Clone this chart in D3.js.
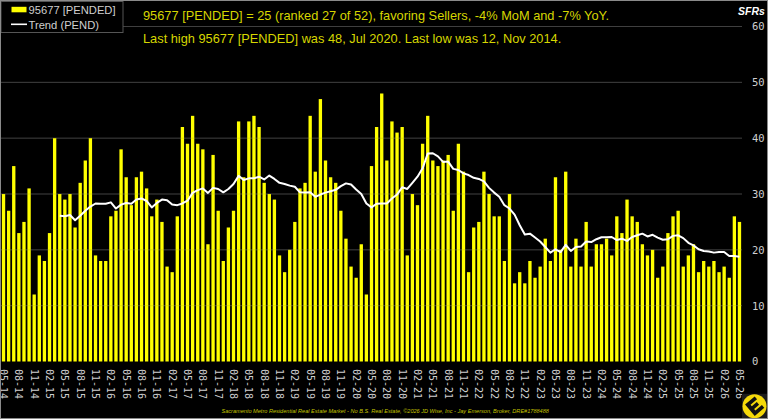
<!DOCTYPE html>
<html>
<head>
<meta charset="utf-8">
<script src="https://cdn.jsdelivr.net/npm/d3@7/dist/d3.min.js"></script>
<style>
html,body{margin:0;padding:0;background:#000;overflow:hidden}
svg{display:block}
</style>
</head>
<body>
<svg id="chart" width="768" height="419"></svg>
<script>
// Monthly pended single family sales for one ZIP code, May 2014 to May 2026.
const months = ["05-14","06-14","07-14","08-14","09-14","10-14","11-14","12-14",
"01-15","02-15","03-15","04-15","05-15","06-15","07-15","08-15","09-15","10-15","11-15","12-15",
"01-16","02-16","03-16","04-16","05-16","06-16","07-16","08-16","09-16","10-16","11-16","12-16",
"01-17","02-17","03-17","04-17","05-17","06-17","07-17","08-17","09-17","10-17","11-17","12-17",
"01-18","02-18","03-18","04-18","05-18","06-18","07-18","08-18","09-18","10-18","11-18","12-18",
"01-19","02-19","03-19","04-19","05-19","06-19","07-19","08-19","09-19","10-19","11-19","12-19",
"01-20","02-20","03-20","04-20","05-20","06-20","07-20","08-20","09-20","10-20","11-20","12-20",
"01-21","02-21","03-21","04-21","05-21","06-21","07-21","08-21","09-21","10-21","11-21","12-21",
"01-22","02-22","03-22","04-22","05-22","06-22","07-22","08-22","09-22","10-22","11-22","12-22",
"01-23","02-23","03-23","04-23","05-23","06-23","07-23","08-23","09-23","10-23","11-23","12-23",
"01-24","02-24","03-24","04-24","05-24","06-24","07-24","08-24","09-24","10-24","11-24","12-24",
"01-25","02-25","03-25","04-25","05-25","06-25","07-25","08-25","09-25","10-25","11-25","12-25",
"01-26","02-26","03-26","04-26","05-26"];

const pended = [30,27,35,23,25,31,12,19,
18,23,40,30,29,30,24,32,36,40,19,18,
18,26,27,38,33,28,33,34,31,26,29,25,
17,16,26,42,39,44,39,38,21,37,27,18,
24,27,43,33,43,44,42,32,30,29,19,16,
20,25,31,32,44,34,47,36,33,32,27,22,
17,15,21,12,35,42,48,36,43,41,42,19,
30,28,39,44,36,35,36,37,27,39,34,16,
24,25,34,30,26,26,18,30,14,16,14,18,
15,17,22,18,33,20,34,17,22,17,25,17,
21,21,22,19,26,23,29,26,25,21,19,20,
15,17,23,26,27,17,19,21,16,18,17,18,
16,17,15,26,25];

// The trend line only begins once a full year of months is available.
const trend = [null,null,null,null,null,null,null,null,
null,null,null,26.1,26.0,26.25,25.3,26.1,27.0,27.75,28.3,28.25,
28.25,28.5,27.4,28.1,28.4,28.25,29.0,29.2,28.75,27.6,28.4,29.0,
28.9,28.1,28.0,28.3,28.8,30.2,30.7,31.0,30.2,31.1,30.9,30.3,
30.9,31.8,33.25,32.5,32.8,32.8,33.1,32.6,33.3,32.7,32.0,31.8,
31.5,31.3,30.3,30.25,30.3,29.5,29.9,30.25,30.5,30.75,31.4,31.9,
31.7,30.8,30.0,28.3,27.6,28.25,28.3,28.3,29.2,29.9,31.2,30.9,
32.0,33.1,34.6,37.25,37.3,36.75,35.75,35.8,34.5,34.3,33.7,33.4,
32.9,32.7,32.25,31.1,30.25,29.5,28.0,27.4,26.3,24.4,22.75,22.9,
22.2,21.5,20.5,19.5,20.1,19.6,20.9,19.8,20.5,20.6,21.5,21.4,
21.9,22.25,22.25,22.3,21.75,22.0,21.6,22.3,22.6,22.9,22.4,22.7,
22.2,21.8,21.9,22.5,22.6,22.1,21.25,20.8,20.1,19.8,19.7,19.5,
19.6,19.6,18.9,18.9,18.75];

const yTicks = [0,10,20,30,40,50,60];
const xTickLabels = months.filter((m, i) => i % 3 === 0);

const headline = "95677 [PENDED] = 25 (ranked 27 of 52), favoring Sellers, -4% MoM and -7% YoY.";
const subline = "Last high 95677 [PENDED] was 48, Jul 2020. Last low was 12, Nov 2014.";
const footer = "Sacramento Metro Residential Real Estate Market - No B.S. Real Estate, \u00A92026 JD Wise, Inc - Jay Emerson, Broker, DRE#1788488";

const svg = d3.select("#chart");
const W = 768, H = 419;
const plot = {left: 1, right: 742, top: 26.5, bottom: 361.5};
const YELLOW = "#ffff00", TEXT_Y = "#d6d600", GRID = "#474747", LABEL = "#cfcfcf";
const MONO = "'DejaVu Sans Mono', monospace", SANS = "'Liberation Sans', Arial, sans-serif";

svg.append("rect").attr("width", W).attr("height", H).attr("fill", "#000");

const x = d3.scaleBand().domain(months).range([plot.left, plot.right]).paddingInner(0.35).paddingOuter(0.17);
const y = d3.scaleLinear().domain([0, 60]).range([plot.bottom, plot.top]);

// Horizontal grid, under the columns
svg.append("g").selectAll("line").data(yTicks.filter(t => t > 0)).join("line")
  .attr("x1", plot.left).attr("x2", plot.right)
  .attr("y1", d => y(d)).attr("y2", d => y(d))
  .attr("stroke", GRID).attr("stroke-width", 1);

svg.append("g").selectAll("rect").data(pended).join("rect")
  .attr("x", (d, i) => x(months[i]))
  .attr("width", x.bandwidth())
  .attr("y", d => y(d))
  .attr("height", d => y(0) - y(d))
  .attr("fill", YELLOW);

// Faint grid trace across the columns
svg.append("g").selectAll("line").data(yTicks.filter(t => t > 0)).join("line")
  .attr("x1", plot.left).attr("x2", plot.right)
  .attr("y1", d => y(d)).attr("y2", d => y(d))
  .attr("stroke", "#000").attr("stroke-opacity", 0.1);

svg.append("path")
  .datum(trend)
  .attr("fill", "none").attr("stroke", "#fff").attr("stroke-width", 2)
  .attr("stroke-linejoin", "round")
  .attr("d", d3.line()
    .defined(d => d !== null)
    .x((d, i) => x(months[i]) + x.bandwidth() / 2)
    .y(d => y(d)));

// Axes: value on the right, month labels turned to read downward
const yAxis = d3.axisRight(y).tickValues(yTicks).tickSize(0).tickPadding(0);
const yG = svg.append("g").attr("transform", "translate(752,0)").call(yAxis);
yG.select(".domain").remove();
yG.selectAll("text").attr("font-family", MONO).attr("font-size", 10.5).attr("fill", LABEL);

const xAxis = d3.axisBottom(x).tickValues(xTickLabels).tickSize(0).tickPadding(0);
const xG = svg.append("g").attr("transform", `translate(0,${plot.bottom})`).call(xAxis);
xG.select(".domain").remove();
xG.selectAll("text")
  .attr("font-family", MONO).attr("font-size", 10).attr("fill", LABEL)
  .attr("text-anchor", "start").attr("dy", null)
  .attr("transform", "translate(-3.6,7.5) rotate(90)")
  .attr("x", 0).attr("y", 0);

svg.append("text").attr("x", 143).attr("y", 20).text(headline)
  .attr("font-family", SANS).attr("font-size", 12.8).attr("fill", TEXT_Y);
svg.append("text").attr("x", 143).attr("y", 42.5).text(subline)
  .attr("font-family", SANS).attr("font-size", 12.8).attr("fill", TEXT_Y);
svg.append("text").attr("x", 221.5).attr("y", 413).text(footer)
  .attr("font-family", SANS).attr("font-size", 5.58).attr("font-style", "italic").attr("fill", "#c4c400");
svg.append("text").attr("x", 738).attr("y", 15).text("SFRs")
  .attr("font-family", SANS).attr("font-size", 10.5).attr("font-style", "italic")
  .attr("font-weight", "bold").attr("fill", "#fff");

// Legend box over the plot's top-left corner
const legend = svg.append("g");
legend.append("rect").attr("x", 1).attr("y", 1.5).attr("width", 122).attr("height", 31)
  .attr("fill", "#000").attr("stroke", "#555");
legend.append("rect").attr("x", 11.5).attr("y", 6.8).attr("width", 15).attr("height", 5.5).attr("fill", YELLOW);
legend.append("line").attr("x1", 11).attr("x2", 27).attr("y1", 24.3).attr("y2", 24.3)
  .attr("stroke", "#fff").attr("stroke-width", 1.6);
legend.append("text").attr("x", 28.5).attr("y", 13.5).text("95677 [PENDED]")
  .attr("font-family", SANS).attr("font-size", 11.2).attr("fill", LABEL);
legend.append("text").attr("x", 28.5).attr("y", 29).text("Trend (PEND)")
  .attr("font-family", SANS).attr("font-size", 11.2).attr("fill", LABEL);

// Brand badge in the bottom-right corner
const badge = svg.append("g").attr("transform", "translate(754.5,406.3)");
badge.append("rect").attr("x", -12.5).attr("y", -12.5).attr("width", 25).attr("height", 25).attr("fill", "#1c1c1c");
badge.append("circle").attr("r", 12).attr("fill", "#f5d90a");
badge.append("path")
  .attr("transform", "rotate(-40)")
  .attr("d", "M-6,-7.5H6.5V-3.8H-2V-1.8H4.5V1.8H-2V3.8H6.5V7.5H-6Z")
  .attr("fill", "#111");

// Outer frame
svg.append("rect").attr("x", 0.5).attr("y", 0.5).attr("width", W - 1).attr("height", H - 1)
  .attr("fill", "none").attr("stroke", "#8a8a8a");
</script>
</body>
</html>
